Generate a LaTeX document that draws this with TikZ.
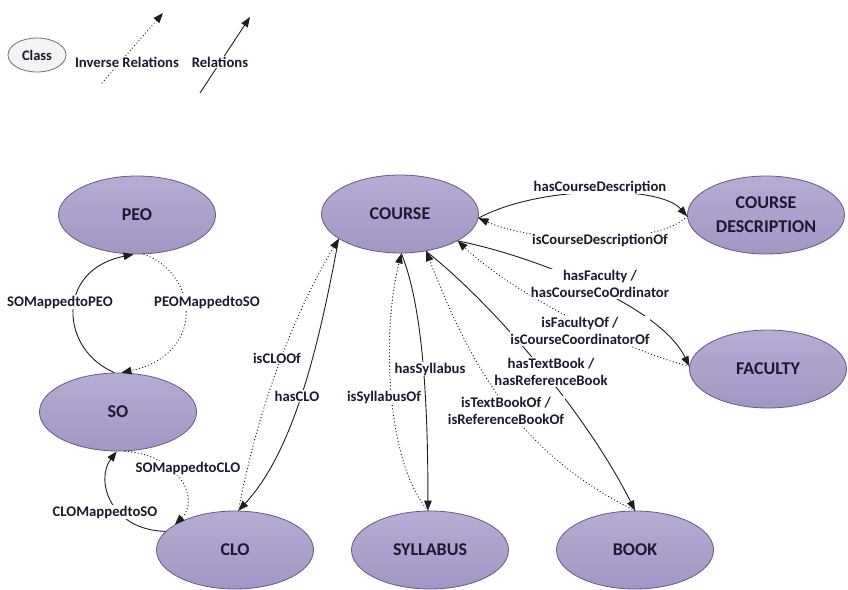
\documentclass[tikz,border=0pt]{standalone}
\usepackage{fontspec}
\setmainfont{Carlito}
\usetikzlibrary{arrows.meta,shapes.geometric}
\definecolor{elltop}{RGB}{183,172,213}
\definecolor{ellbot}{RGB}{163,150,197}
\definecolor{elldraw}{RGB}{100,90,130}
\definecolor{linecol}{RGB}{30,30,30}
\definecolor{txtcol}{RGB}{30,26,45}
\definecolor{clsfill}{RGB}{244,244,244}
\definecolor{clsdraw}{RGB}{110,110,110}
\begin{document}
\begin{tikzpicture}[x=1pt,y=-1pt,
  cls/.style={ellipse, draw=elldraw, top color=elltop, bottom color=ellbot, line width=0.8pt, minimum width=157pt, minimum height=78pt, inner sep=0pt, font=\fontsize{18}{24}\selectfont\bfseries, text=txtcol, align=center},
  legendcls/.style={ellipse, draw=clsdraw, fill=clsfill, line width=0.8pt, minimum width=58pt, minimum height=34pt, inner sep=0pt, font=\fontsize{14.5}{17}\selectfont\bfseries, text=txtcol},
  lbl/.style={fill=white, inner sep=0.8pt, font=\fontsize{14.7}{17.5}\selectfont\bfseries, text=txtcol, align=center},
  rel/.style={draw=linecol, line width=0.9pt, -{Triangle[length=10pt,width=7.5pt]}},
  inv/.style={draw=linecol, line width=1.1pt, line cap=round, dash pattern=on 0.3pt off 3pt, -{Triangle[length=10pt,width=7.5pt]}},
]
\useasboundingbox (0,0) rectangle (848,589);

% classes
\node[cls] (peo) at (137,215) {PEO};
\node[cls] (course) at (400,214) {COURSE};
\node[cls] (cd) at (766,215) {COURSE\\DESCRIPTION};
\node[cls] (so) at (118,412) {SO};
\node[cls] (faculty) at (768,369) {FACULTY};
\node[cls] (clo) at (235,550) {CLO};
\node[cls] (syl) at (430,550) {SYLLABUS};
\node[cls] (book) at (635,550) {BOOK};

% relations
\draw[rel] (so.95) .. controls (60,350) and (55,270) .. (peo.-95);
\draw[inv] (peo.-80) .. controls (200,275) and (205,355) .. (so.85);
\draw[inv] (so.-80) .. controls (180,455) and (200,500) .. (clo.157);
\draw[rel] (clo.165) .. controls (110,530) and (95,480) .. (so.-92);
\draw[rel] (course.-158) .. controls (320,340) and (295,450) .. (clo.85);
\draw[inv] (clo.85) .. controls (255,420) and (290,320) .. (course.-158);
\draw[rel] (course.-88) .. controls (420,300) and (428,380) .. (syl.93);
\draw[inv] (syl.93) .. controls (385,460) and (382,330) .. (course.-88);
\draw[rel] (course.-55) .. controls (500,310) and (590,420) .. (book.north);
\draw[inv] (book.north) .. controls (510,450) and (465,350) .. (course.-55);
\draw[rel] (course.-25) .. controls (530,255) and (660,305) .. (faculty.178);
\draw[inv] (faculty.178) .. controls (640,355) and (520,300) .. (course.-25);
\draw[rel] (course.-3) .. controls (540,185) and (660,185) .. (cd.181);
\draw[inv] (cd.181) .. controls (660,245) and (540,245) .. (course.-3);

% labels
\node[lbl] (l1) at (60,302) {SOMappedtoPEO};
\node[lbl] (l2) at (207,302) {PEOMappedtoSO};
\node[lbl] (l3) at (188,468) {SOMappedtoCLO};
\node[lbl] (l4) at (105,512) {CLOMappedtoSO};
\node[lbl] (l5) at (277,358) {isCLOOf};
\node[lbl] (l6) at (297,396) {hasCLO};
\node[lbl] (l7) at (384,397) {isSyllabusOf};
\node[lbl] (l8) at (430,369) {hasSyllabus};
\node[lbl] (l9) at (600,187) {hasCourseDescription};
\node[lbl] (l10) at (600,240) {isCourseDescriptionOf};
\node[lbl] (l11) at (600,284) {hasFaculty /\\hasCourseCoOrdinator};
\node[lbl] (l12) at (580,331) {isFacultyOf /\\isCourseCoordinatorOf};
\node[lbl] (l13) at (551,372) {hasTextBook /\\hasReferenceBook};
\node[lbl] (l14) at (506,411) {isTextBookOf /\\isReferenceBookOf};

% legend
\node[legendcls] (clsleg) at (37,55) {Class};
\coordinate (ia1) at (102,83);
\coordinate (ia2) at (163,13);
\coordinate (ra1) at (200,93);
\coordinate (ra2) at (250,17);
\draw[inv] (ia1) -- (ia2);
\draw[rel] (ra1) -- (ra2);
\node[lbl] (invtxt) at (127,62) {Inverse Relations};
\node[lbl] (reltxt) at (220,62) {Relations};
\end{tikzpicture}
\end{document}
